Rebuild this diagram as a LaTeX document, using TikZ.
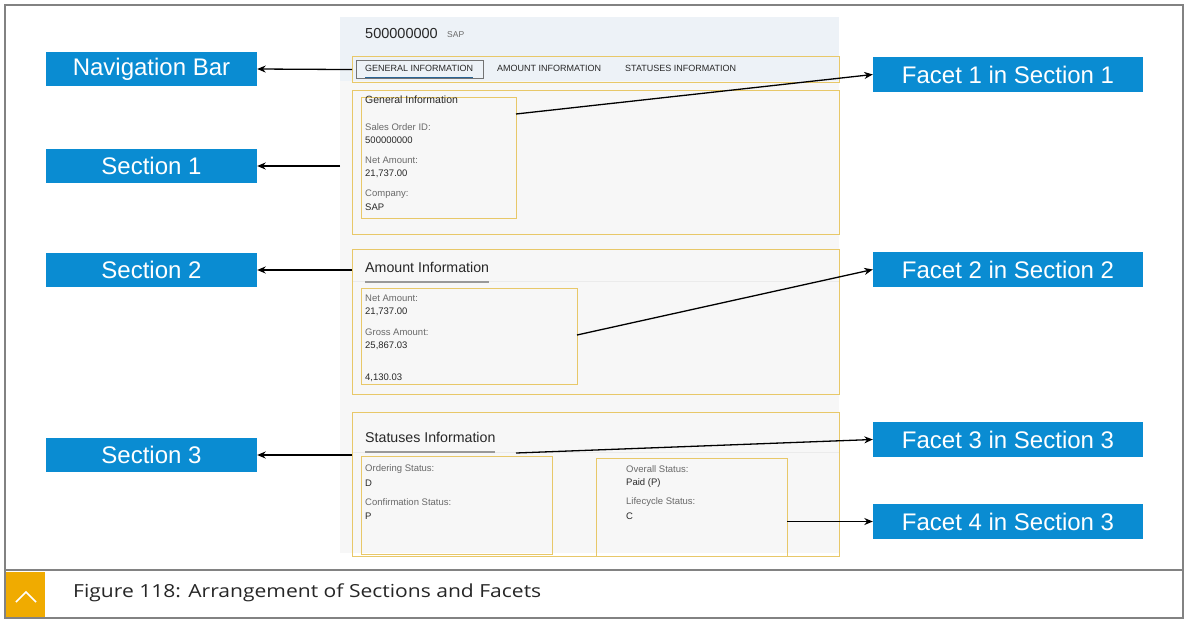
\documentclass[tikz,border=0pt]{standalone}
\usepackage{fontspec}
\setmainfont{Liberation Sans}
\newfontfamily\capfont[FakeStretch=1.17]{Open Sans}
\usetikzlibrary{arrows.meta}
\definecolor{sapblue}{RGB}{10,140,210}
\definecolor{ybord}{RGB}{232,200,105}
\definecolor{hdrbg}{RGB}{237,242,247}
\definecolor{bodybg}{RGB}{247,247,247}
\definecolor{frame}{RGB}{130,130,130}
\definecolor{lblgray}{RGB}{105,105,105}
\definecolor{valgray}{RGB}{40,40,40}
\definecolor{capgold}{RGB}{240,171,0}
\definecolor{tabline}{RGB}{40,100,150}
\tikzset{
  lbl/.style={fill=sapblue, text=white, inner sep=0pt, minimum width=211pt, minimum height=34pt,
    font=\fontsize{24}{28}\selectfont},
  ybox/.style={draw=ybord, line width=1.1pt, inner sep=0pt, anchor=north west},
  ptr/.style={draw=black, line width=1.3pt, -{Stealth[length=8.5pt,width=7pt]}},
  fl/.style={anchor=west, inner sep=0pt, text=lblgray, font=\fontsize{9.5}{11}\selectfont},
  fv/.style={anchor=west, inner sep=0pt, text=valgray, font=\fontsize{9.5}{11}\selectfont},
  tab/.style={anchor=west, inner sep=0pt, text=valgray, font=\fontsize{9}{11}\selectfont},
  sechead/.style={anchor=west, inner sep=0pt, text=valgray, font=\fontsize{14.2}{17}\selectfont},
}
\begin{document}
\begin{tikzpicture}[x=1pt,y=-1pt]
\useasboundingbox (0,0) rectangle (1188,621);
\fill[white] (0,0) rectangle (1188,621);
% outer frames
\draw[frame, line width=2pt] (5,5) rectangle (1183,570);
\draw[frame, line width=2pt] (5,570) rectangle (1183,618);
\fill[capgold] (6,572) rectangle (45,617);
\draw[white, line width=1.6pt] (16,602) -- (26,592) -- (36,602);
\node[anchor=west, inner sep=0pt, text=black!85, font=\capfont\fontsize{18}{20}\selectfont] (caption) at (73,593) {Figure 118: Arrangement of Sections and Facets};

% screenshot background
\fill[bodybg] (340,17) rectangle (839,553);
\fill[hdrbg] (340,17) rectangle (839,81);
\draw[black!8] (352,281) -- (839,281);
\draw[black!8] (352,452) -- (839,452);

% header
\node[anchor=west, inner sep=0pt, text=valgray, font=\fontsize{14.5}{17}\selectfont] (objtitle) at (365,34) {500000000};
\node[anchor=west, inner sep=0pt, text=lblgray, font=\fontsize{8.5}{10}\selectfont] (objsub) at (447,35) {SAP};

% navigation bar
\node[ybox, minimum width=487pt, minimum height=26pt] (navbox) at (352,56) {};
\node[draw=black!55, line width=0.6pt, inner sep=0pt, anchor=north west, minimum width=127pt, minimum height=18pt] (tabsel) at (356,60) {};
\draw[tabline, line width=1.2pt] (365,77.5) -- (473,77.5);
\node[tab] (tab1) at (365,68) {GENERAL INFORMATION};
\node[tab] (tab2) at (497,68) {AMOUNT INFORMATION};
\node[tab] (tab3) at (625,68) {STATUSES INFORMATION};

% section 1
\node[ybox, minimum width=487pt, minimum height=144pt] (sec1) at (352,90) {};
\node[ybox, minimum width=155pt, minimum height=121pt] (fac1) at (361,97) {};
\node[fl, text=valgray, font=\fontsize{10.5}{12}\selectfont] (g0) at (365,100) {General Information};
\node[fl] (g1) at (365,127) {Sales Order ID:};
\node[fv] (g2) at (365,140) {500000000};
\node[fl] (g3) at (365,160) {Net Amount:};
\node[fv] (g4) at (365,174) {21,737.00};
\node[fl] (g5) at (365,194) {Company:};
\node[fv] (g6) at (365,207) {SAP};

% section 2
\node[ybox, minimum width=487pt, minimum height=145pt] (sec2) at (352,249) {};
\node[sechead] (h2) at (365,267) {Amount Information};
\draw[black!40, line width=1.2pt] (365,282) -- (489,282);
\node[ybox, minimum width=216pt, minimum height=96pt] (fac2) at (361,288) {};
\node[fl] (a1) at (365,298) {Net Amount:};
\node[fv] (a2) at (365,312) {21,737.00};
\node[fl] (a3) at (365,332) {Gross Amount:};
\node[fv] (a4) at (365,346) {25,867.03};
\node[fv] (a5) at (365,378) {4,130.03};

% section 3
\node[ybox, minimum width=487pt, minimum height=144pt] (sec3) at (352,412) {};
\node[sechead] (h3) at (365,437) {Statuses Information};
\draw[black!40, line width=1.2pt] (365,452) -- (495,452);
\node[ybox, minimum width=191pt, minimum height=98pt] (fac3) at (361,456) {};
\node[ybox, minimum width=191pt, minimum height=98pt] (fac4) at (596,458) {};
\node[fl] (s1) at (365,469) {Ordering Status:};
\node[fv] (s2) at (365,483) {D};
\node[fl] (s3) at (365,502) {Confirmation Status:};
\node[fv] (s4) at (365,516) {P};
\node[fl] (t1) at (626,469) {Overall Status:};
\node[fv] (t2) at (626,483) {Paid (P)};
\node[fl] (t3) at (626,502) {Lifecycle Status:};
\node[fv] (t4) at (626,516) {C};

% labels
\node[lbl] (lnav) at (151.5,69) {Navigation Bar};
\node[lbl] (lsec1) at (151.5,166) {Section 1};
\node[lbl] (lsec2) at (151.5,270) {Section 2};
\node[lbl] (lsec3) at (151.5,455) {Section 3};
\node[lbl, minimum width=270pt, minimum height=35pt] (lf1) at (1008,74.5) {Facet 1 in Section 1};
\node[lbl, minimum width=270pt, minimum height=35pt] (lf2) at (1008,269.5) {Facet 2 in Section 2};
\node[lbl, minimum width=270pt, minimum height=35pt] (lf3) at (1008,439.5) {Facet 3 in Section 3};
\node[lbl, minimum width=270pt, minimum height=35pt] (lf4) at (1008,521.5) {Facet 4 in Section 3};

% connector start points
\coordinate (c1) at (340,166);
\coordinate (c2) at (352,270);
\coordinate (c3) at (352,455);
\coordinate (cf1) at (516,114);
\coordinate (cf2) at (577,335);
\coordinate (cf3) at (516,453);
\coordinate (cf4) at (787,521.5);

\draw[ptr] (navbox.west) -- (lnav.east);
\draw[ptr] (c1) -- (lsec1.east);
\draw[ptr] (c2) -- (lsec2.east);
\draw[ptr] (c3) -- (lsec3.east);
\draw[ptr] (cf1) -- (lf1.west);
\draw[ptr] (cf2) -- (lf2.west);
\draw[ptr] (cf3) -- (lf3.west);
\draw[ptr] (cf4) -- (lf4.west);
\end{tikzpicture}
\end{document}
